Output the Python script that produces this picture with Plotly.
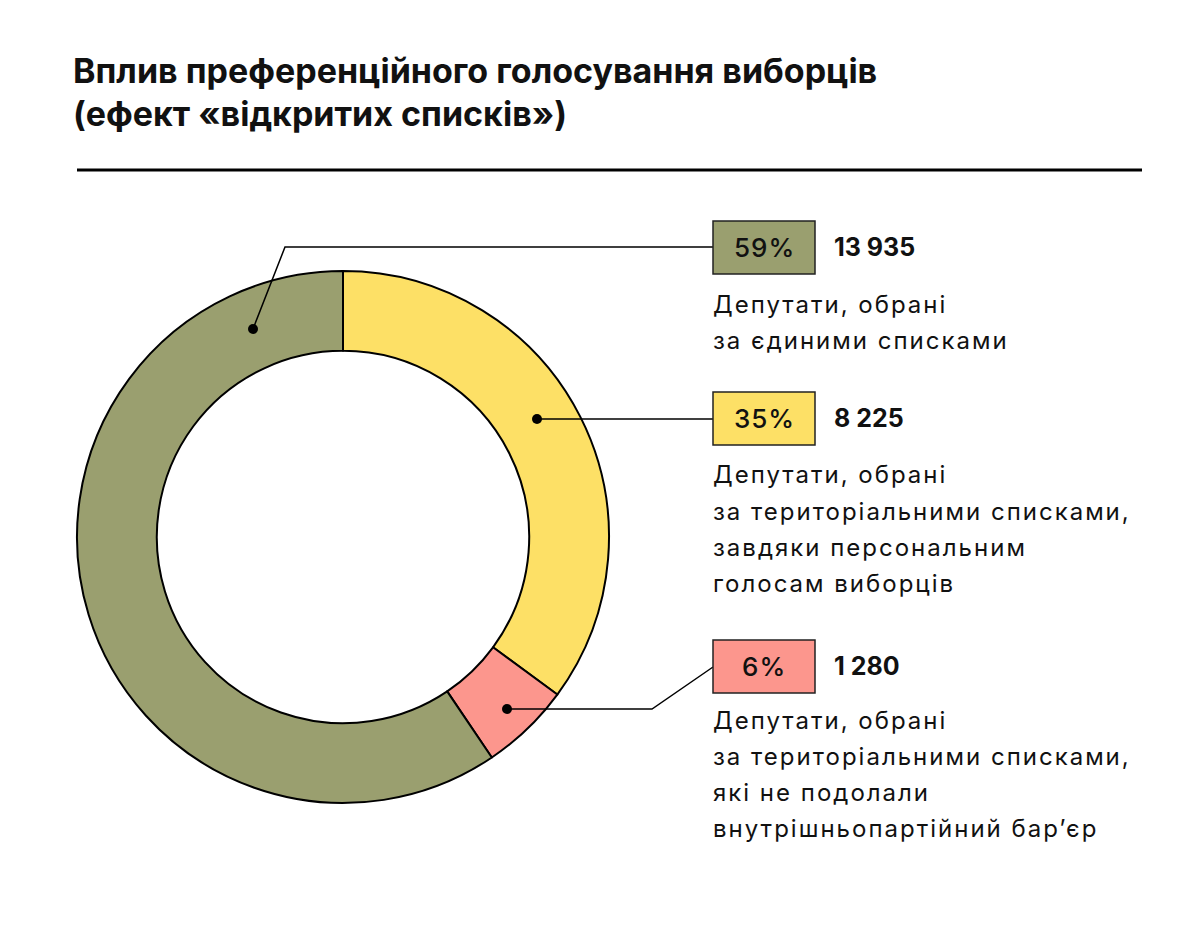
import plotly.graph_objects as go

# Дані
categories = ["Єдині списки", "Територіальні списки (персональні голоси)", "Територіальні списки (не подолали бар'єр)"]
values = [13935, 8225, 1280]
pct_labels = ["59%", "35%", "6%"]
num_labels = ["13 935", "8 225", "1 280"]
colors = ["#9A9F6F", "#FDE066", "#FC968D"]
descriptions = [
    ["Депутати, обрані", "за єдиними списками"],
    ["Депутати, обрані", "за територіальними списками,", "завдяки персональним", "голосам виборців"],
    ["Депутати, обрані", "за територіальними списками,", "які не подолали", "внутрішньопартійний бар’єр"],
]

# сторінка має відступ 8px, тому полотно трохи менше за вікно
OFF = 8
W, H = 1200 - 2 * OFF, 930 - 2 * OFF
FONT = "Inter"


def px(x):
    return (x - OFF) / W


def py(y):
    return 1 - (y - OFF) / H


def spaced(s, ls):
    return f'<span style="letter-spacing:{ls}px">{s}</span>'


# порядок на кільці: жовтий, рожевий, оливковий (за годинниковою від верху)
order = [1, 2, 0]

fig = go.Figure()
fig.add_trace(go.Pie(
    labels=[categories[i] for i in order],
    values=[values[i] for i in order],
    marker=dict(colors=[colors[i] for i in order], line=dict(color="black", width=2)),
    hole=0.7,
    sort=False,
    direction="clockwise",
    rotation=0,
    textinfo="none",
    hoverinfo="label+value+percent",
    domain=dict(x=[px(77), px(609)], y=[py(803), py(271)]),
    showlegend=False,
))

shapes = []
annotations = []

# заголовок
annotations.append(dict(
    x=px(71), y=py(71), xref="paper", yref="paper", xanchor="left", yanchor="middle",
    text="<b>Вплив преференційного голосування виборців</b>", showarrow=False,
    font=dict(family=FONT, size=34, color="#111"),
))
annotations.append(dict(
    x=px(71), y=py(113), xref="paper", yref="paper", xanchor="left", yanchor="middle",
    text="<b>(ефект «відкритих списків»)</b>", showarrow=False,
    font=dict(family=FONT, size=34, color="#111"),
))
shapes.append(dict(type="line", xref="paper", yref="paper",
                   x0=px(77), x1=px(1142), y0=py(170), y1=py(170),
                   line=dict(color="black", width=3)))

# виноски: точка на кільці -> ламана -> плашка
leaders = [
    [(253, 329), (285, 247), (713, 247)],
    [(537, 419), (713, 419)],
    [(507, 709), (652, 709), (713, 667)],
]
box_tops = [221, 392, 640]
desc_gap = [83, 83, 80]

for i in range(3):
    pts = leaders[i]
    path = "M " + " L ".join(f"{px(x)},{py(y)}" for x, y in pts)
    shapes.append(dict(type="path", xref="paper", yref="paper", path=path,
                       line=dict(color="black", width=1.5), layer="above"))
    dx, dy = pts[0]
    shapes.append(dict(type="circle", xref="paper", yref="paper",
                       x0=px(dx - 5), x1=px(dx + 5), y0=py(dy - 5), y1=py(dy + 5),
                       fillcolor="black", line=dict(width=0), layer="above"))
    top = box_tops[i]
    shapes.append(dict(type="rect", xref="paper", yref="paper",
                       x0=px(713), x1=px(815), y0=py(top), y1=py(top + 53),
                       fillcolor=colors[i], line=dict(color="#222", width=1.5)))
    annotations.append(dict(
        x=px(764), y=py(top + 26), xref="paper", yref="paper", xanchor="center", yanchor="middle",
        text=spaced(pct_labels[i], 1), showarrow=False,
        font=dict(family=FONT, size=26, color="#111", weight=500),
    ))
    annotations.append(dict(
        x=px(832), y=py(top + 26), xref="paper", yref="paper", xanchor="left", yanchor="middle",
        text=f"<b>{num_labels[i]}</b>", showarrow=False,
        font=dict(family=FONT, size=25, color="#111"),
    ))
    for j, line in enumerate(descriptions[i]):
        annotations.append(dict(
            x=px(711), y=py(top + desc_gap[i] + 36 * j), xref="paper", yref="paper",
            xanchor="left", yanchor="middle",
            text=spaced(line, 2), showarrow=False,
            font=dict(family=FONT, size=24, color="#111"),
        ))

fig.update_layout(
    width=W, height=H,
    margin=dict(l=0, r=0, t=0, b=0),
    paper_bgcolor="white", plot_bgcolor="white",
    shapes=shapes, annotations=annotations,
)

fig.write_html("out.html")
